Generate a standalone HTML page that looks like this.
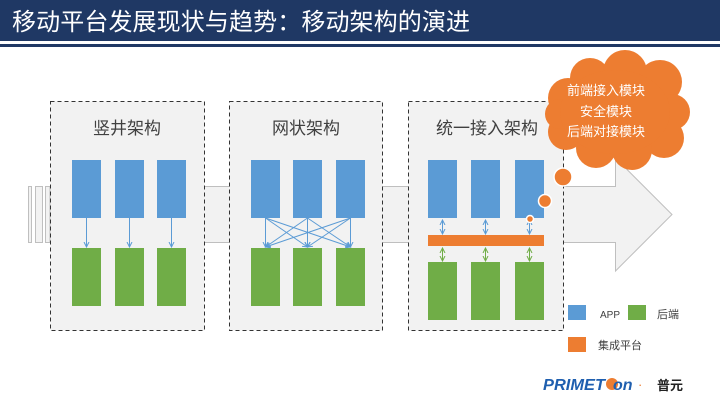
<!DOCTYPE html>
<html><head><meta charset="utf-8">
<style>
body{margin:0;width:720px;height:405px;overflow:hidden;background:#fff;font-family:"Liberation Sans","Noto Sans CJK SC",sans-serif;}
svg{display:block}
</style></head><body>
<svg width="720" height="405" viewBox="0 0 720 405">
<defs>
<marker id="ab" markerWidth="6" markerHeight="6" refX="5" refY="3" orient="auto"><path d="M0,0.5 L5,3 L0,5.5" fill="none" stroke="#5B9BD5" stroke-width="1"/></marker>
<marker id="abs" markerWidth="6" markerHeight="6" refX="1" refY="3" orient="auto"><path d="M6,0.5 L1,3 L6,5.5" fill="none" stroke="#5B9BD5" stroke-width="1"/></marker>
<marker id="ag" markerWidth="6" markerHeight="6" refX="5" refY="3" orient="auto"><path d="M0,0.5 L5,3 L0,5.5" fill="none" stroke="#70AD47" stroke-width="1"/></marker>
<marker id="ags" markerWidth="6" markerHeight="6" refX="1" refY="3" orient="auto"><path d="M6,0.5 L1,3 L6,5.5" fill="none" stroke="#70AD47" stroke-width="1"/></marker>
</defs>
<rect x="0" y="0" width="720" height="41" fill="#1F3864"/>
<rect x="0" y="44" width="720" height="3" fill="#1F3864"/>
<text x="12" y="30" font-size="24" fill="#fff" textLength="458">移动平台发展现状与趋势：移动架构的演进</text>

<g fill="#F2F2F2" stroke="#BFBFBF" stroke-width="1">
<rect x="28.5" y="186.5" width="3" height="56"/>
<rect x="35.5" y="186.5" width="7" height="56"/>
<rect x="45.5" y="186.5" width="8" height="56"/>
<path d="M50,186.5 L615.5,186.5 L615.5,158 L672,214.5 L615.5,271 L615.5,242.5 L50,242.5 Z"/>
</g>

<g>
<rect x="50.5" y="101.5" width="154" height="229" fill="#F2F2F2" stroke="#333" stroke-dasharray="4,3"/>
<text x="127" y="134" font-size="17" fill="#404040" text-anchor="middle">竖井架构</text>
<rect x="72" y="160" width="29" height="58" fill="#5B9BD5"/>
<rect x="115" y="160" width="29" height="58" fill="#5B9BD5"/>
<rect x="157" y="160" width="29" height="58" fill="#5B9BD5"/>
<rect x="72" y="248" width="29" height="58" fill="#70AD47"/>
<rect x="115" y="248" width="29" height="58" fill="#70AD47"/>
<rect x="157" y="248" width="29" height="58" fill="#70AD47"/>
<g stroke="#5B9BD5" stroke-width="1" marker-end="url(#ab)">
<line x1="86.5" y1="218" x2="86.5" y2="247"/><line x1="129.5" y1="218" x2="129.5" y2="247"/><line x1="171.5" y1="218" x2="171.5" y2="247"/>
</g>
</g>

<g>
<rect x="229.5" y="101.5" width="153" height="229" fill="#F2F2F2" stroke="#333" stroke-dasharray="4,3"/>
<text x="306" y="134" font-size="17" fill="#404040" text-anchor="middle">网状架构</text>
<rect x="251" y="160" width="29" height="58" fill="#5B9BD5"/>
<rect x="293" y="160" width="29" height="58" fill="#5B9BD5"/>
<rect x="336" y="160" width="29" height="58" fill="#5B9BD5"/>
<rect x="251" y="248" width="29" height="58" fill="#70AD47"/>
<rect x="293" y="248" width="29" height="58" fill="#70AD47"/>
<rect x="336" y="248" width="29" height="58" fill="#70AD47"/>
<g stroke="#5B9BD5" stroke-width="1" marker-end="url(#ab)">
<line x1="265.5" y1="218" x2="265.5" y2="247"/><line x1="265.5" y1="218" x2="307.5" y2="247"/><line x1="265.5" y1="218" x2="350.5" y2="247"/>
<line x1="307.5" y1="218" x2="265.5" y2="247"/><line x1="307.5" y1="218" x2="307.5" y2="247"/><line x1="307.5" y1="218" x2="350.5" y2="247"/>
<line x1="350.5" y1="218" x2="265.5" y2="247"/><line x1="350.5" y1="218" x2="307.5" y2="247"/><line x1="350.5" y1="218" x2="350.5" y2="247"/>
</g>
</g>

<g>
<rect x="408.5" y="101.5" width="155" height="229" fill="#F2F2F2" stroke="#333" stroke-dasharray="4,3"/>
<text x="487" y="134" font-size="17" fill="#404040" text-anchor="middle">统一接入架构</text>
<rect x="428" y="160" width="29" height="58" fill="#5B9BD5"/>
<rect x="471" y="160" width="29" height="58" fill="#5B9BD5"/>
<rect x="515" y="160" width="29" height="58" fill="#5B9BD5"/>
<rect x="428" y="235" width="116" height="11" fill="#ED7D31"/>
<rect x="428" y="262" width="29" height="58" fill="#70AD47"/>
<rect x="471" y="262" width="29" height="58" fill="#70AD47"/>
<rect x="515" y="262" width="29" height="58" fill="#70AD47"/>
<g stroke="#5B9BD5" stroke-width="1" marker-end="url(#ab)" marker-start="url(#abs)">
<line x1="442.5" y1="220" x2="442.5" y2="234"/><line x1="485.5" y1="220" x2="485.5" y2="234"/><line x1="529.5" y1="220" x2="529.5" y2="234"/>
</g>
<g stroke="#70AD47" stroke-width="1" marker-end="url(#ag)" marker-start="url(#ags)">
<line x1="442.5" y1="248" x2="442.5" y2="261"/><line x1="485.5" y1="248" x2="485.5" y2="261"/><line x1="529.5" y1="248" x2="529.5" y2="261"/>
</g>
</g>

<g fill="#ED7D31" stroke="#fff" stroke-width="1.5">
<circle cx="530" cy="219" r="3.5"/>
<circle cx="545" cy="201" r="6.5"/>
<circle cx="563" cy="177" r="9"/>
<g stroke="none">
<circle cx="568" cy="98" r="20"/><circle cx="590" cy="78" r="20"/><circle cx="625" cy="72" r="22"/>
<circle cx="660" cy="82" r="22"/><circle cx="672" cy="112" r="18"/><circle cx="664" cy="138" r="20"/>
<circle cx="632" cy="150" r="20"/><circle cx="596" cy="148" r="20"/><circle cx="566" cy="132" r="18"/>
<circle cx="560" cy="114" r="15"/>
<ellipse cx="615" cy="112" rx="55" ry="42"/>
</g>
</g>
<g font-size="13" fill="#fff" text-anchor="middle">
<text x="606" y="95">前端接入模块</text>
<text x="606" y="116">安全模块</text>
<text x="606" y="136">后端对接模块</text>
</g>

<g font-size="11" fill="#404040">
<rect x="568" y="305" width="18" height="15" fill="#5B9BD5"/>
<text x="600" y="318" font-size="10">APP</text>
<rect x="628" y="305" width="18" height="15" fill="#70AD47"/>
<text x="657" y="318">后端</text>
<rect x="568" y="337" width="18" height="15" fill="#ED7D31"/>
<text x="598" y="349">集成平台</text>
</g>

<g>
<text x="543" y="390" font-size="16" font-style="italic" font-weight="bold" fill="#1F5FAF" textLength="62" lengthAdjust="spacingAndGlyphs">PRIMET</text>
<circle cx="612" cy="384" r="6" fill="#ED7D31"/>
<text x="613" y="390" font-size="16" font-style="italic" font-weight="bold" fill="#1F5FAF">on</text>
<text x="638" y="389" font-size="13" fill="#ED7D31">·</text>
<text x="670" y="390" font-size="13" font-weight="bold" fill="#222" text-anchor="middle">普元</text>
</g>
</svg>
</body></html>
